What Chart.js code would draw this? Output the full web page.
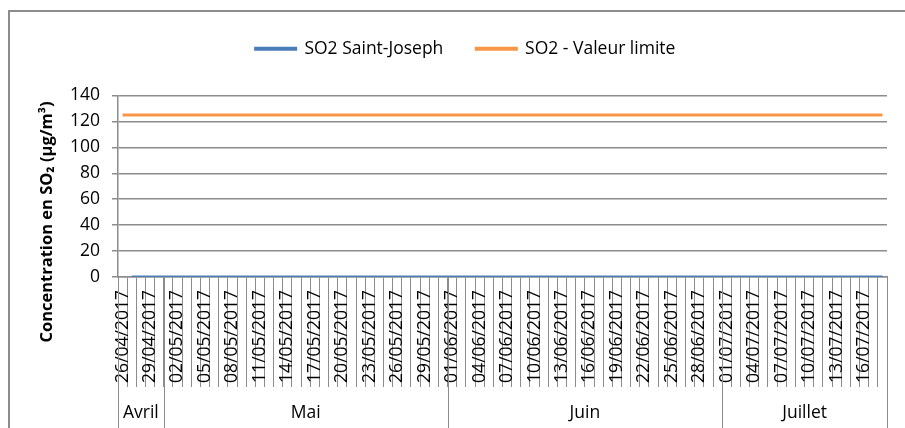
<!DOCTYPE html>
<html>
<head>
<meta charset="utf-8">
<script src="https://cdn.jsdelivr.net/npm/chart.js@4.4.1/dist/chart.umd.min.js"></script>
<style>
  html, body { margin: 0; padding: 0; background: #fff; }
  #wrap { width: 905px; height: 428px; }
</style>
</head>
<body>
<div id="wrap"><canvas id="so2chart"></canvas></div>
<script>
const dates = [
  '26/04/2017', '27/04/2017', '28/04/2017', '29/04/2017', '30/04/2017',
  '01/05/2017', '02/05/2017', '03/05/2017', '04/05/2017', '05/05/2017', '06/05/2017', '07/05/2017', '08/05/2017',
  '09/05/2017', '10/05/2017', '11/05/2017', '12/05/2017', '13/05/2017', '14/05/2017', '15/05/2017', '16/05/2017',
  '17/05/2017', '18/05/2017', '19/05/2017', '20/05/2017', '21/05/2017', '22/05/2017', '23/05/2017', '24/05/2017',
  '25/05/2017', '26/05/2017', '27/05/2017', '28/05/2017', '29/05/2017', '30/05/2017', '31/05/2017',
  '01/06/2017', '02/06/2017', '03/06/2017', '04/06/2017', '05/06/2017', '06/06/2017', '07/06/2017', '08/06/2017',
  '09/06/2017', '10/06/2017', '11/06/2017', '12/06/2017', '13/06/2017', '14/06/2017', '15/06/2017', '16/06/2017',
  '17/06/2017', '18/06/2017', '19/06/2017', '20/06/2017', '21/06/2017', '22/06/2017', '23/06/2017', '24/06/2017',
  '25/06/2017', '26/06/2017', '27/06/2017', '28/06/2017', '29/06/2017', '30/06/2017',
  '01/07/2017', '02/07/2017', '03/07/2017', '04/07/2017', '05/07/2017', '06/07/2017', '07/07/2017', '08/07/2017',
  '09/07/2017', '10/07/2017', '11/07/2017', '12/07/2017', '13/07/2017', '14/07/2017', '15/07/2017', '16/07/2017',
  '17/07/2017', '18/07/2017'
];

// months shown under the dates, with how many days each covers
const months = ['Avril', 'Mai', 'Juin', 'Juillet'];
const monthDays = [5, 31, 30, 18];

// measured values (first day has no measurement)
const so2SaintJoseph = [
  null, 0, 0, 0, 0,
  0, 0, 0, 0, 0, 0, 0, 0, 0, 0, 0, 0, 0, 0, 0, 0, 0, 0, 0, 0, 0, 0, 0, 0, 0, 0, 0, 0, 0, 0, 0,
  0, 0, 0, 0, 0, 0, 0, 0, 0, 0, 0, 0, 0, 0, 0, 0, 0, 0, 0, 0, 0, 0, 0, 0, 0, 0, 0, 0, 0, 0,
  0, 0, 0, 0, 0, 0, 0, 0, 0, 0, 0, 0, 0, 0, 0, 0, 0, 0
];
const so2Limit = [
  125, 125, 125, 125, 125,
  125, 125, 125, 125, 125, 125, 125, 125, 125, 125, 125, 125, 125, 125, 125, 125,
  125, 125, 125, 125, 125, 125, 125, 125, 125, 125, 125, 125, 125, 125, 125,
  125, 125, 125, 125, 125, 125, 125, 125, 125, 125, 125, 125, 125, 125, 125,
  125, 125, 125, 125, 125, 125, 125, 125, 125, 125, 125, 125, 125, 125, 125,
  125, 125, 125, 125, 125, 125, 125, 125, 125, 125, 125, 125, 125, 125, 125, 125, 125, 125
];

const yTitle = 'Concentration en SO\u2082 (\u00b5g/m\u00b3)';
const gridGrey = '#8c8c8c';
const FONT = '"Open Sans", sans-serif';
const FS = 17.5;

// outer frame + y title + month row under the dates
const decor = {
  id: 'decor',
  beforeLayout(chart) {
    // leave more room between legend and plot, like the original
    const lg = chart.legend;
    if (lg && !lg._padded) {
      const fit = lg.fit.bind(lg);
      lg.fit = function () { fit(); this.height += 28; };
      lg._padded = true;
    }
  },
  beforeDraw(chart) {
    const c = chart.ctx;
    c.save();
    c.strokeStyle = gridGrey;
    c.lineWidth = 2;
    c.beginPath();
    c.moveTo(9, chart.height);
    c.lineTo(9, 11);
    c.lineTo(chart.width, 11);
    c.stroke();
    c.restore();
  },
  afterDraw(chart) {
    const c = chart.ctx;
    const xs = chart.scales.x;
    const area = chart.chartArea;
    const step = xs.getPixelForValue(1) - xs.getPixelForValue(0);
    c.save();
    c.strokeStyle = gridGrey;
    c.lineWidth = 1;
    let idx = 0;
    let edges = [xs.getPixelForValue(0) - step / 2];
    monthDays.forEach(n => {
      idx += n;
      edges.push(xs.getPixelForValue(idx - 1) + step / 2);
    });
    edges.forEach(x => {
      c.beginPath();
      c.moveTo(Math.round(x) + 0.5, area.bottom);
      c.lineTo(Math.round(x) + 0.5, chart.height);
      c.stroke();
    });
    c.fillStyle = '#000';
    c.font = FS + 'px ' + FONT;
    c.textAlign = 'center';
    c.textBaseline = 'middle';
    months.forEach((m, i) => {
      c.fillText(m, (edges[i] + edges[i + 1]) / 2, 413);
    });
    // axis title
    c.font = 'bold 16.5px ' + FONT;
    c.translate(47, 222);
    c.rotate(-Math.PI / 2);
    c.fillText(yTitle, 0, 0);
    c.restore();
  }
};

const ctx = document.getElementById('so2chart').getContext('2d');
const so2chart = new Chart(ctx, {
  type: 'line',
  data: {
    labels: dates,
    datasets: [{
      label: 'SO2 Saint-Joseph',
      data: so2SaintJoseph,
      borderColor: '#4a7ebb',
      backgroundColor: '#4a7ebb',
      borderWidth: 3,
      pointRadius: 0,
      spanGaps: false
    }, {
      label: 'SO2 - Valeur limite',
      data: so2Limit,
      borderColor: '#f79646',
      backgroundColor: '#f79646',
      borderWidth: 3,
      pointRadius: 0
    }]
  },
  options: {
    responsive: true,
    maintainAspectRatio: false,
    animation: false,
    layout: { padding: { left: 44, right: 18, top: 7, bottom: 0 } },
    plugins: {
      tooltip: { enabled: false },
      legend: {
        labels: {
          boxWidth: 40,
          boxHeight: 1,
          padding: 33,
          color: '#000',
          font: { family: FONT, size: FS }
        }
      }
    },
    scales: {
      y: {
        min: 0,
        max: 140,
        afterFit(scale) { scale.width = 74; },
        ticks: {
          stepSize: 20,
          color: '#000',
          padding: 12,
          font: { family: FONT, size: FS }
        },
        grid: { color: gridGrey, lineWidth: 1.5, tickLength: 6 },
        border: { color: gridGrey, width: 1.5 }
      },
      x: {
        offset: true,
        afterFit(scale) { scale.height = 151; },
        ticks: {
          autoSkip: false,
          minRotation: 90,
          maxRotation: 90,
          padding: -97,
          color: '#000',
          font: { family: FONT, size: FS },
          callback: (v, i) => (i % 3 === 0 ? dates[i] : '')
        },
        grid: {
          offset: true,
          drawOnChartArea: false,
          tickLength: 110,
          color: gridGrey,
          lineWidth: 1
        },
        border: { color: gridGrey, width: 1.5 }
      }
    }
  },
  plugins: [decor]
});
</script>
</body>
</html>
